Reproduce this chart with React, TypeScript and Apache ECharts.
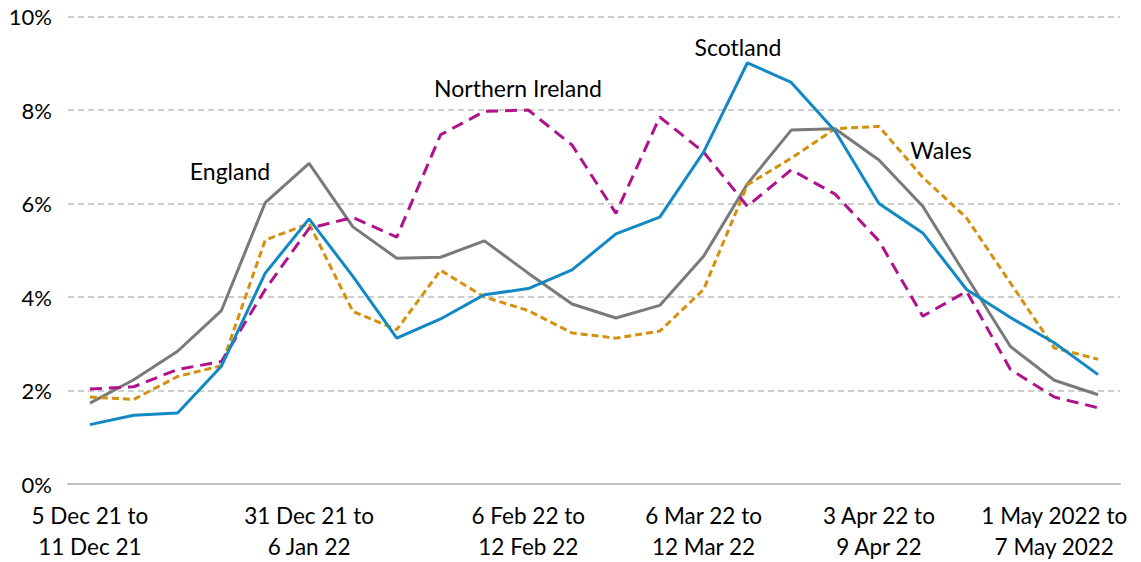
import React, { useEffect, useRef } from "react";
import * as echarts from "echarts";

const weeks = [
  "5 Dec 21 to\n11 Dec 21",
  "12 Dec 21 to\n18 Dec 21",
  "17 Dec 21 to\n23 Dec 21",
  "20 Dec 21 to\n26 Dec 21",
  "24 Dec 21 to\n30 Dec 21",
  "31 Dec 21 to\n6 Jan 22",
  "9 Jan 22 to\n15 Jan 22",
  "16 Jan 22 to\n22 Jan 22",
  "23 Jan 22 to\n29 Jan 22",
  "30 Jan 22 to\n5 Feb 22",
  "6 Feb 22 to\n12 Feb 22",
  "13 Feb 22 to\n19 Feb 22",
  "20 Feb 22 to\n26 Feb 22",
  "27 Feb 22 to\n5 Mar 22",
  "6 Mar 22 to\n12 Mar 22",
  "13 Mar 22 to\n19 Mar 22",
  "20 Mar 22 to\n26 Mar 22",
  "27 Mar 22 to\n2 Apr 22",
  "3 Apr 22 to\n9 Apr 22",
  "10 Apr 22 to\n16 Apr 22",
  "17 Apr 22 to\n23 Apr 22",
  "24 Apr 22 to\n30 Apr 22",
  "1 May 2022 to\n7 May 2022",
  "8 May 2022 to\n14 May 2022",
];
const shownLabelIdx = [0, 5, 10, 14, 18, 22];

const england = [1.73, 2.23, 2.84, 3.71, 6.02, 6.86, 5.5, 4.83, 4.85, 5.2, 4.51, 3.85, 3.55, 3.82, 4.87, 6.42, 7.57, 7.6, 6.93, 5.94, 4.44, 2.94, 2.22, 1.91];
const scotland = [1.27, 1.47, 1.52, 2.52, 4.51, 5.67, 4.44, 3.12, 3.53, 4.05, 4.18, 4.58, 5.35, 5.71, 7.1, 9.01, 8.59, 7.55, 6.0, 5.37, 4.16, 3.56, 3.02, 2.34];
const wales = [1.86, 1.81, 2.3, 2.53, 5.22, 5.57, 3.69, 3.3, 4.57, 4.0, 3.71, 3.23, 3.12, 3.27, 4.16, 6.4, 6.97, 7.6, 7.65, 6.56, 5.69, 4.3, 2.91, 2.67];
const northernIreland = [2.03, 2.08, 2.45, 2.62, 4.16, 5.47, 5.7, 5.28, 7.47, 7.97, 8.0, 7.25, 5.79, 7.85, 7.1, 5.94, 6.72, 6.2, 5.2, 3.59, 4.12, 2.45, 1.86, 1.63];

const FONT = "Lato, 'Noto Sans', sans-serif";

export default function App() {
  const ref = useRef<HTMLDivElement>(null);
  useEffect(() => {
    if (!ref.current) return;
    const chart = echarts.init(ref.current, undefined, { renderer: "svg" });
    const lineStyleBase = { width: 3 };
    const ann = (text: string, x: number, y: number) => ({
      type: "text",
      x,
      y,
      style: { text, font: `23px ${FONT}`, fill: "#000", align: "center", verticalAlign: "middle" },
    });
    chart.setOption({
      animation: false,
      backgroundColor: "#ffffff",
      textStyle: { fontFamily: FONT },
      grid: { left: 68, right: 21, top: 16.5, bottom: 77.5, containLabel: false },
      xAxis: {
        type: "category",
        data: weeks,
        boundaryGap: true,
        axisLine: { show: true, lineStyle: { color: "#bfbfbf", width: 2 } },
        axisTick: { show: false },
        axisLabel: {
          interval: (i: number) => shownLabelIdx.includes(i),
          color: "#000000",
          fontSize: 22.5,
          lineHeight: 31,
          margin: 16,
          fontFamily: FONT,
        },
        splitLine: { show: false },
      },
      yAxis: {
        type: "value",
        min: 0,
        max: 10,
        interval: 2,
        axisLine: { show: false },
        axisTick: { show: false },
        axisLabel: {
          formatter: "{value}%",
          color: "#000000",
          fontSize: 22,
          margin: 16,
          fontFamily: FONT,
        },
        splitLine: { show: true, lineStyle: { color: "#bfbfbf", type: [6, 4], width: 1.5 } },
      },
      series: [
        {
          name: "England",
          type: "line",
          data: england,
          symbol: "none",
          lineStyle: { ...lineStyleBase, color: "#7a7a7a" },
          itemStyle: { color: "#7a7a7a" },
          z: 3,
        },
        {
          name: "Wales",
          type: "line",
          data: wales,
          symbol: "none",
          lineStyle: { ...lineStyleBase, color: "#d4900e", type: [7, 4] },
          itemStyle: { color: "#d4900e" },
          z: 4,
        },
        {
          name: "Northern Ireland",
          type: "line",
          data: northernIreland,
          symbol: "none",
          lineStyle: { ...lineStyleBase, color: "#b0128c", type: [12, 7] },
          itemStyle: { color: "#b0128c" },
          z: 5,
        },
        {
          name: "Scotland",
          type: "line",
          data: scotland,
          symbol: "none",
          lineStyle: { ...lineStyleBase, color: "#1289c4" },
          itemStyle: { color: "#1289c4" },
          z: 6,
        },
      ],
      graphic: [
        ann("England", 230, 171),
        ann("Northern Ireland", 518, 88),
        ann("Scotland", 738, 47),
        ann("Wales", 941, 150),
      ],
    });
    return () => chart.dispose();
  }, []);
  return <div ref={ref} style={{ position: "fixed", left: 0, top: 0, width: 1141, height: 562 }} />;
}
